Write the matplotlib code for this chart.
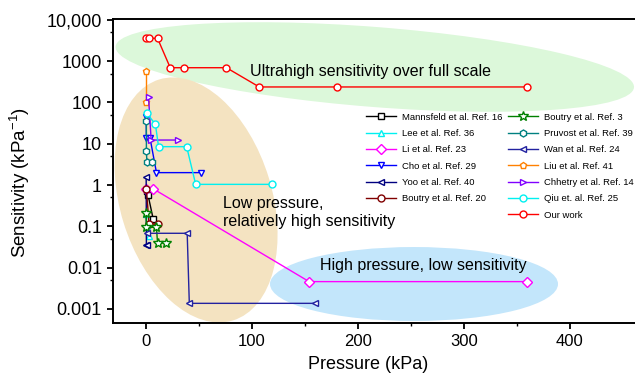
import matplotlib
matplotlib.use("Agg")
import matplotlib.pyplot as plt
import matplotlib.transforms as mtransforms
from matplotlib.patches import Ellipse
from matplotlib.lines import Line2D
from matplotlib.ticker import FixedLocator, NullFormatter

plt.rcParams['font.family'] = ['Liberation Sans', 'DejaVu Sans']
plt.rcParams['mathtext.fontset'] = 'custom'
plt.rcParams['mathtext.rm'] = 'Liberation Sans'
plt.rcParams['mathtext.it'] = 'Liberation Sans:italic'

# values (pressure kPa, sensitivity kPa^-1)
mannsfeld_x = [1.5, 2, 7]
mannsfeld_y = [0.72, 0.58, 0.148]
lee_x = [0.3, 1, 3]
lee_y = [0.2, 0.1, 0.058]
li_x = [0, 7, 154, 360]
li_y = [0.79, 0.81, 0.0046, 0.0046]
cho_x = [0.3, 0.5, 4, 10, 52]
cho_y = [45, 13.5, 13.5, 2.0, 2.0]
yoo_x = [0.3, 0.5, 1.5]
yoo_y = [1.56, 0.035, 0.035]
boutry20_x = [0.5, 3, 11]
boutry20_y = [0.81, 0.114, 0.114]
boutry3_x = [0.3, 0.6, 10, 11, 19]
boutry3_y = [0.206, 0.095, 0.095, 0.04, 0.04]
pruvost_x = [0.5, 0.5, 1, 6]
pruvost_y = [36, 6.7, 3.55, 3.55]
wan_x = [1, 39, 41, 160]
wan_y = [0.068, 0.068, 0.00137, 0.00137]
liu_x = [0.5, 0.5]
liu_y = [575, 100]
chhetry_x = [2.5, 5, 30]
chhetry_y = [138, 12.3, 12.3]
qiu_x = [1, 9, 12, 38.5, 47, 119]
qiu_y = [54.6, 29.5, 8.5, 8.5, 1.04, 1.04]
ours_x = [0.3, 3, 11, 23, 36, 76, 107, 180, 360]
ours_y = [3570, 3570, 3570, 693, 693, 693, 237, 237, 237]

series = [
    ("Mannsfeld et al. Ref. 16", mannsfeld_x, mannsfeld_y, 'black', 's'),
    ("Lee et al. Ref. 36", lee_x, lee_y, '#00f0f0', '^'),
    ("Li et al. Ref. 23", li_x, li_y, '#ff00ff', 'D'),
    ("Cho et al. Ref. 29", cho_x, cho_y, '#0000ff', 'v'),
    ("Yoo et al. Ref. 40", yoo_x, yoo_y, '#000080', '<'),
    ("Boutry et al. Ref. 20", boutry20_x, boutry20_y, '#800000', 'o'),
    ("Boutry et al. Ref. 3", boutry3_x, boutry3_y, '#008000', '*'),
    ("Pruvost et al. Ref. 39", pruvost_x, pruvost_y, '#008080', 'h'),
    ("Wan et al. Ref. 24", wan_x, wan_y, '#2222a0', '<'),
    ("Liu et al. Ref. 41", liu_x, liu_y, '#ff8000', 'p'),
    ("Chhetry et al. Ref. 14", chhetry_x, chhetry_y, '#8000ff', '>'),
    ("Qiu et. al. Ref. 25", qiu_x, qiu_y, '#00f0f0', 'o'),
    ("Our work", ours_x, ours_y, '#ff0000', 'o'),
]

y_ticks = [0.001, 0.01, 0.1, 1, 10, 100, 1000, 10000]
y_ticklabels = ['0.001', '0.01', '0.1', '1', '10', '100', '1000', '10,000']
y_minor = [0.005, 0.05, 0.5, 5, 50, 500, 5000]

fig = plt.figure(figsize=(6.35, 3.84), dpi=100)
ax = fig.add_axes([113 / 635, 1 - 322.7 / 384, 1 - 113 / 635, (322.7 - 19) / 384])
ax.set_yscale('log')
ax.set_xlim(-31, 461.5)
ax.set_ylim(10 ** -3.332, 10 ** 4.02)

ax.spines['right'].set_visible(False)
for s in ['left', 'top', 'bottom']:
    ax.spines[s].set_linewidth(1.4)
ax.set_xticks([0, 100, 200, 300, 400])
ax.set_xticks([50, 150, 250, 350], minor=True)
ax.yaxis.set_major_locator(FixedLocator(y_ticks))
ax.set_yticklabels(y_ticklabels)
ax.yaxis.set_minor_locator(FixedLocator(y_minor))
ax.yaxis.set_minor_formatter(NullFormatter())
ax.tick_params(which='major', direction='out', length=4, width=1.3, labelsize=12, pad=4)
ax.tick_params(axis='y', which='major', labelsize=13)
ax.tick_params(which='minor', direction='out', length=2.5, width=1.0)
ax.tick_params(top=False, right=False, which='both')

ax.set_xlabel('Pressure (kPa)', fontsize=13, va='center')
ax.xaxis.set_label_coords(0.488, -0.136)
ax.set_ylabel('Sensitivity (kPa$^{-1}$)', fontsize=13.5, va='center')
ax.yaxis.set_label_coords(-0.178, 0.46)


def region(xc, yc, w, h, angle, color):
    # ellipse sized in pixels, centred on a data point
    cx, cy = ax.transData.transform((xc, yc))
    t = mtransforms.Affine2D().translate(cx, cy)
    ax.add_patch(Ellipse((0, 0), w, h, angle=angle, transform=t,
                         facecolor=color, edgecolor='none', zorder=0))


region(216, 721, 520, 80, -4.5, '#dcf8da')
region(47.4, 0.436, 152, 252, 17, '#f4e3c1')
region(253, 0.00402, 288, 74, 0, '#c3e6fb')

ax.text(98, 546, 'Ultrahigh sensitivity over full scale', fontsize=11.5, va='center', ha='left')
ax.text(73, 0.216, 'Low pressure,\nrelatively high sensitivity', fontsize=11.5, va='center', ha='left')
ax.text(164.5, 0.011, 'High pressure, low sensitivity', fontsize=11.5, va='center', ha='left')

handles = []
for label, xs, ys, color, marker in series:
    ms = 7 if marker == '*' else 5
    h, = ax.plot(xs, ys, color=color, marker=marker, markersize=ms, markerfacecolor='white',
                 markeredgecolor=color, markeredgewidth=1.0, linewidth=1.0, label=label, zorder=3)
    handles.append(h)

blank = Line2D([], [], linestyle='none', marker='none', label=' ')
leg_handles = handles[:6] + [blank] + handles[6:]
ax.legend(handles=leg_handles, labels=[h.get_label() for h in leg_handles], ncol=2,
          loc='upper left', bbox_to_anchor=(366 / 635, 1 - 112.5 / 384), bbox_transform=fig.transFigure,
          frameon=False, fontsize=6.8, handlelength=3.2, handletextpad=0.6, columnspacing=0.6,
          labelspacing=0.78, borderpad=0, borderaxespad=0)

fig.savefig('out.png', dpi=100)
